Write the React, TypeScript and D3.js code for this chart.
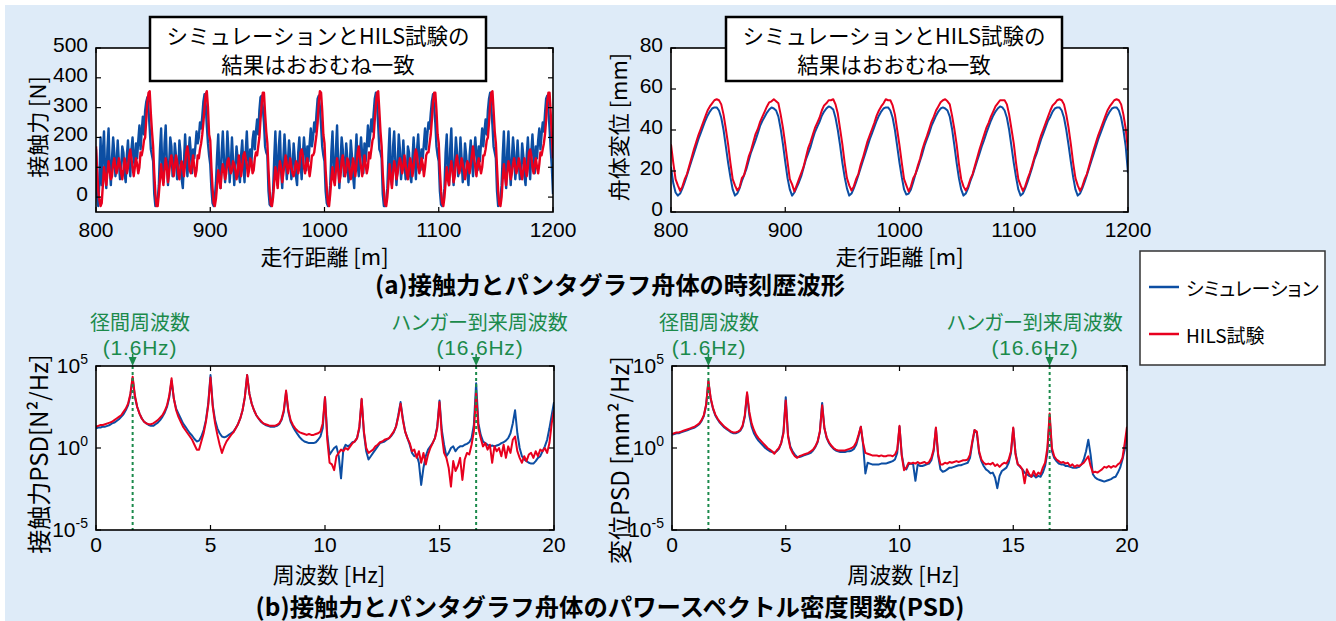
import React from "react";
import * as d3 from "d3";

// ---------- (a) time histories: 800–1200 m ----------
const distStart = 800;
const forceStep = 1; // m
const dispStep = 2; // m
const distTicks = [800, 900, 1000, 1100, 1200];
const forceTicks = [0, 100, 200, 300, 400, 500];
const dispTicks = [0, 20, 40, 60, 80];

// contact force [N], simulation (1 m steps)
const forceSim = [
  160, 10, -30, 60, 200, 40, 150, 220, 80, 30, 160, 230, 100, 40, 130, 200, 150, 70, 110, 190, 120, 60, 100, 170, 150, 80, 50, 140, 190, 110, 70, 160, 200, 130, 100, 180, 130, 190, 240, 160, 220, 270, 210, 290, 320, 335, 290, 230, 160, 140,
  120, 10, -30, -25, -10, 40, 160, 230, 100, 50, 180, 240, 120, 40, 110, 200, 170, 70, 90, 180, 140, 60, 80, 190, 150, 60, 30, 120, 210, 130, 70, 140, 200, 150, 80, 160, 130, 170, 220, 180, 200, 250, 230, 270, 320, 345, 310, 240, 180, 140,
  110, 30, -20, -30, -5, 50, 140, 210, 80, 30, 150, 220, 130, 50, 110, 220, 150, 50, 110, 200, 120, 40, 100, 170, 130, 80, 50, 140, 190, 110, 50, 150, 220, 130, 100, 160, 110, 190, 220, 160, 220, 260, 210, 290, 335, 340, 300, 250, 170, 150,
  140, 20, -25, -30, -20, 20, 130, 220, 100, 40, 170, 220, 90, 30, 130, 210, 140, 60, 120, 190, 140, 60, 90, 180, 130, 70, 40, 150, 200, 120, 60, 140, 200, 150, 90, 170, 120, 180, 230, 170, 200, 250, 220, 280, 330, 340, 300, 240, 170, 140,
  120, 20, -20, -30, -10, 40, 150, 220, 90, 50, 160, 240, 110, 30, 120, 200, 160, 70, 100, 180, 130, 50, 90, 190, 140, 70, 30, 130, 210, 110, 70, 150, 200, 140, 80, 180, 120, 170, 240, 170, 210, 260, 220, 280, 330, 350, 310, 240, 160, 150,
  130, 10, -30, -30, -15, 30, 140, 230, 80, 40, 170, 220, 120, 40, 110, 210, 160, 60, 110, 190, 120, 60, 80, 170, 150, 70, 50, 130, 200, 130, 60, 160, 210, 130, 90, 160, 130, 180, 230, 160, 210, 250, 230, 280, 320, 345, 300, 250, 170, 140,
  120, 20, -25, -30, -10, 30, 150, 210, 90, 40, 160, 230, 100, 40, 120, 200, 150, 70, 100, 200, 130, 50, 100, 180, 140, 80, 40, 140, 190, 120, 70, 150, 200, 140, 90, 170, 120, 180, 230, 170, 220, 260, 210, 290, 330, 350, 300, 240, 170, 150,
  130, 20, -30, -25, -10, 40, 140, 220, 90, 30, 160, 220, 110, 40, 130, 200, 150, 60, 110, 190, 120, 60, 90, 180, 140, 70, 40, 140, 200, 120, 60, 150, 210, 140, 80, 170, 130, 190, 230, 160, 210, 250, 220, 280, 330, 340, 290, 230, 160, 100,
  10,
];

// contact force [N], HILS test (1 m steps)
const forceHils = [
  170, 90, 20, -10, -30, -20, 40, 100, 70, 40, 80, 120, 90, 60, 70, 110, 130, 100, 80, 100, 130, 110, 80, 60, 90, 130, 110, 80, 100, 140, 160, 130, 100, 70, 100, 130, 110, 80, 100, 150, 140, 160, 190, 200, 260, 320, 350, 355, 280, 220,
  170, 80, 10, -30, -30, 10, 60, 110, 70, 40, 90, 130, 100, 50, 80, 120, 140, 110, 70, 100, 140, 120, 80, 60, 100, 120, 100, 70, 110, 150, 170, 140, 90, 80, 110, 140, 100, 70, 90, 140, 130, 160, 180, 210, 250, 300, 345, 355, 300, 210,
  190, 100, 30, -20, -30, -5, 40, 90, 60, 30, 80, 110, 90, 60, 80, 120, 130, 100, 80, 90, 120, 110, 90, 60, 80, 140, 110, 70, 100, 140, 150, 130, 110, 70, 90, 130, 120, 80, 90, 130, 150, 140, 170, 200, 260, 310, 350, 350, 280, 220,
  180, 90, 20, -25, -30, 0, 50, 100, 70, 30, 90, 120, 100, 50, 80, 110, 140, 110, 80, 100, 130, 100, 80, 70, 90, 120, 110, 80, 100, 150, 160, 140, 100, 80, 110, 130, 100, 70, 100, 140, 140, 150, 180, 210, 250, 320, 355, 350, 290, 210,
  180, 90, 30, -20, -30, 10, 60, 100, 60, 40, 90, 130, 90, 50, 70, 120, 140, 100, 70, 90, 130, 120, 90, 60, 90, 130, 100, 70, 110, 150, 170, 130, 100, 70, 100, 140, 110, 80, 100, 150, 130, 160, 190, 200, 260, 310, 350, 355, 290, 220,
  170, 80, 20, -25, -30, 0, 50, 110, 70, 30, 80, 120, 100, 60, 80, 110, 130, 110, 80, 100, 140, 110, 80, 60, 100, 130, 110, 70, 100, 140, 160, 140, 100, 80, 100, 130, 110, 70, 100, 140, 150, 150, 180, 210, 260, 320, 350, 350, 290, 210,
  180, 90, 20, -20, -30, 0, 50, 100, 60, 40, 90, 120, 90, 50, 70, 120, 140, 100, 80, 100, 130, 110, 90, 60, 90, 120, 110, 80, 110, 140, 170, 130, 100, 70, 110, 130, 100, 80, 100, 140, 140, 160, 190, 200, 250, 310, 350, 355, 290, 220,
  180, 100, 20, -25, -30, 0, 60, 110, 70, 40, 80, 120, 100, 60, 80, 110, 130, 100, 80, 100, 130, 110, 80, 60, 90, 130, 100, 70, 100, 150, 160, 140, 100, 80, 110, 130, 100, 80, 110, 150, 140, 160, 180, 210, 260, 320, 350, 350, 280, 200,
  130,
];

// pan-head displacement [mm], simulation (2 m steps)
const dispSim = [
  22, 14, 9.5,
  8, 9, 11.5, 14.5, 18, 21.5, 25, 28.5, 32, 35.5, 38.5, 41.5, 44.5, 47, 49, 50.5, 51, 51, 49.5, 46, 40, 32, 24, 17, 11,
  8, 9, 11.5, 15, 18, 21, 25, 29, 32, 35, 38.5, 42, 44.5, 46.5, 48.5, 50, 51, 50.5, 49.5, 46.5, 40.5, 33, 24.5, 16.5, 11,
  8, 9.5, 12, 14.5, 17.5, 21.5, 25.5, 28.5, 31.5, 35.5, 39, 41.5, 44, 47, 49, 50.5, 51.5, 51, 50, 46, 40, 32.5, 24, 17, 11.5,
  8, 9, 11.5, 14.5, 18, 21.5, 25, 28.5, 32, 35.5, 38.5, 41.5, 44.5, 47, 49, 50.5, 51, 51, 49.5, 46, 40, 32, 24, 17, 11,
  8.5, 9, 11, 14.5, 18.5, 21.5, 25, 28.5, 32.5, 35.5, 38.5, 42, 44.5, 47, 49, 50.5, 51, 50.5, 49.5, 46.5, 40.5, 32.5, 24, 16.5, 11,
  8, 9, 11.5, 15, 18, 21.5, 25, 28.5, 32, 35, 38.5, 41.5, 44.5, 47, 49, 50.5, 51.5, 51, 49.5, 46, 40, 32, 24, 17, 11,
  8, 9, 11.5, 14.5, 18, 21.5, 25.5, 28.5, 32, 35.5, 38.5, 41.5, 44.5, 46.5, 49, 50.5, 51, 51, 49.5, 46, 40, 32.5, 24.5, 17, 11,
  8, 9, 11.5, 14.5, 18, 21.5, 25, 28.5, 32, 35.5, 38.5, 41.5, 44.5, 47, 49, 50.5, 51, 51, 49.5, 46, 40, 32, 19,
];

// pan-head displacement [mm], HILS test (2 m steps)
const dispHils = [
  33, 24, 16,
  13, 10.3, 12.5, 16, 18.5, 22.5, 26.5, 30.5, 34, 37.5, 40.5, 43.5, 46.5, 49.5, 51.5, 53, 54.5, 55, 54.5, 52.5, 47.5, 40.5, 33, 24, 16,
  13, 10.5, 12, 16.5, 18, 22.5, 27, 30, 34, 38, 40.5, 44, 46.5, 49, 51.5, 53.5, 54, 55, 54, 53, 47.5, 41, 33, 24.5, 16,
  13.5, 10, 13, 16, 19, 22, 26.5, 31, 34, 37.5, 41, 43.5, 46, 49.5, 52, 53, 54.5, 54.5, 55, 52.5, 48, 40.5, 33, 24, 16.5,
  13, 10.5, 12.5, 16, 18.5, 23, 26.5, 30.5, 34.5, 37.5, 40.5, 43.5, 47, 49.5, 51.5, 53, 55, 54.5, 54.5, 52, 47.5, 40, 32.5, 24, 16,
  13, 10, 12.5, 16.5, 18.5, 22.5, 26, 30.5, 34, 37, 40.5, 44, 46.5, 49.5, 51.5, 53.5, 54.5, 55, 54, 52.5, 47, 40.5, 33, 23.5, 16,
  12.5, 10.5, 12.5, 16, 18.5, 22.5, 26.5, 30.5, 34, 37.5, 41, 43.5, 46.5, 49, 51.5, 53, 54.5, 54.5, 54.5, 52.5, 47.5, 40.5, 33.5, 24, 16,
  13, 10.3, 12.5, 16, 19, 22.5, 26.5, 30, 34, 37.5, 40.5, 43.5, 46.5, 49.5, 52, 53, 54.5, 55, 54.5, 52.5, 47.5, 41, 33, 24, 16.5,
  13, 10.3, 12.5, 16, 18.5, 22.5, 26.5, 30.5, 34, 37.5, 40.5, 43.5, 46.5, 49.5, 51.5, 53, 54.5, 55, 54.5, 52.5, 47.5, 40.5, 30,
];

// ---------- (b) PSD: 0–20 Hz, 0.1 Hz steps, values are log10(PSD) ----------
const freqStart = 0;
const freqStep = 0.1;
const freqTicks = [0, 5, 10, 15, 20];
const psdTicksExp = [5, 0, -5];
const markFreqs = [1.6, 16.6];

const psdForceSimLog = [
  1.2, 1.25, 1.25, 1.3, 1.3, 1.35, 1.4, 1.5, 1.55, 1.65,
  1.75, 1.9, 2.05, 2.3, 2.6, 3.2, 4.25, 3.1, 2.5, 2.1,
  1.8, 1.6, 1.5, 1.4, 1.35, 1.35, 1.45, 1.55, 1.7, 1.9,
  2.15, 2.5, 3.1, 4.1, 3.0, 2.4, 2.1, 1.8, 1.5, 1.3,
  1.1, 0.9, 0.75, 0.55, 0.4, 0.45, 0.7, 1.1, 1.7, 2.7,
  4.45, 2.6, 1.7, 1.2, 0.9, 0.7, 0.65, 0.7, 0.8, 0.9,
  1.0, 1.2, 1.45, 1.8, 2.3, 3.1, 4.45, 3.3, 2.7, 2.3,
  2.0, 1.8, 1.6, 1.5, 1.4, 1.35, 1.3, 1.3, 1.3, 1.35,
  1.45, 1.7, 2.2, 3.4, 2.2, 1.6, 1.3, 1.05, 0.85, 0.65,
  0.5, 0.4, 0.35, 0.3, 0.3, 0.3, 0.35, 0.5, 0.7, 1.2,
  3.1, 0.8, -0.4, -0.2, 0.0, 0.1, -0.5, -1.85, -0.1, 0.2,
  0.1, 0.2, 0.35, 0.4, 0.6, 1.2, 2.95, 0.9, -0.2, -0.7,
  -0.5, -0.3, -0.1, 0.1, 0.3, 0.35, 0.4, 0.5, 0.6, 0.75,
  0.95, 1.3, 2.0, 2.8, 1.8, 1.0, 0.6, 0.2, -0.3, -0.5,
  -0.4, -0.9, -2.25, -1.2, -0.5, -0.1, 0.1, 0.3, 0.6, 1.3,
  2.9, 1.1, 0.2, -0.5, -0.3, 0.0, 0.1, -0.2, 0.0, 0.1,
  0.1, 0.2, 0.25, 0.35, 0.6, 1.4, 3.95, 1.5, 0.8, 0.4,
  0.3, 0.2, 0.1, 0.15, 0.1, 0.15, 0.2, 0.3, 0.35, 0.45,
  0.6, 0.9, 1.5, 2.3, 0.9, 0.0, -0.5, -0.7, -0.8, -0.9,
  -0.95, -0.95, -0.8, -0.6, -0.5, -0.2, 0.1, 0.5, 1.2, 2.0,
  2.8,
];

const psdForceHilsLog = [
  1.3, 1.35, 1.4, 1.4, 1.45, 1.5, 1.55, 1.6, 1.7, 1.8,
  1.9, 2.0, 2.2, 2.4, 2.7, 3.3, 4.35, 3.2, 2.5, 2.1,
  1.8, 1.6, 1.5, 1.45, 1.45, 1.5, 1.6, 1.7, 1.85, 2.0,
  2.25, 2.6, 3.2, 4.25, 3.0, 2.3, 1.9, 1.6, 1.3, 1.1,
  0.9, 0.7, 0.5, 0.2, -0.1, -0.1, 0.4, 0.9, 1.6, 2.6,
  4.3, 2.5, 1.5, 0.8, 0.2, -0.3, 0.1, 0.4, 0.6, 0.8,
  0.95, 1.2, 1.45, 1.8, 2.3, 3.1, 4.45, 3.3, 2.7, 2.3,
  2.0, 1.8, 1.65, 1.5, 1.45, 1.4, 1.35, 1.35, 1.35, 1.4,
  1.5, 1.75, 2.3, 3.5, 2.3, 1.7, 1.4, 1.2, 1.05, 0.95,
  0.9, 0.85, 0.8, 0.85, 0.8, 0.8, 0.85, 0.9, 1.0, 1.5,
  3.1, 0.5, -0.9, -1.0, -1.35, -0.5, -0.3, -0.1, -0.2, 0.0,
  -0.1, 0.1, 0.3, 0.4, 0.6, 1.3, 3.0, 1.0, 0.0, -0.3,
  -0.2, -0.1, 0.1, 0.2, 0.35, 0.4, 0.5, 0.55, 0.6, 0.8,
  1.0, 1.3, 1.9, 2.7, 1.7, 1.0, 0.6, 0.3, -0.2, -0.1,
  -0.6, -0.2, -0.9, -0.3, -1.0, -0.4, 0.0, 0.3, 0.6, 1.2,
  2.8, 0.8, -0.3, -0.6, -1.2, -2.35, -0.8, -1.4, -1.1, -0.6,
  -1.95, -0.7, -0.3, -0.4, 0.2, 1.0, 3.35, 1.2, 0.6, 0.1,
  0.3, -0.1, 0.2, -0.9, 0.1, -0.2, 0.0, -0.5, 0.2, -0.6,
  0.1, -0.3, 0.5, 0.7, -0.2, -0.6, -0.9, -0.5, -0.8, -0.4,
  -0.3, -0.6, -0.2, -0.5, -0.1, -0.2, 0.0, -0.3, 0.3, 1.5,
  2.3,
];

const psdDispSimLog = [
  0.8, 0.85, 0.9, 0.9, 0.95, 1.0, 1.05, 1.1, 1.15, 1.2,
  1.25, 1.35, 1.45, 1.65, 1.95, 2.6, 4.05, 3.0, 2.4, 2.0,
  1.75, 1.55, 1.4, 1.25, 1.15, 1.05, 0.95, 0.9, 0.9, 0.95,
  1.05, 1.3, 1.9, 3.3, 2.0, 1.3, 0.9, 0.65, 0.45, 0.3,
  0.15, 0.0, -0.1, -0.2, -0.25, -0.3, -0.2, -0.05, 0.3, 1.0,
  3.1, 0.8, 0.1, -0.2, -0.4, -0.55, -0.55, -0.5, -0.45, -0.4,
  -0.35, -0.3, -0.15, 0.05, 0.35, 1.0, 2.75, 1.2, 0.6, 0.3,
  0.1, -0.05, -0.15, -0.2, -0.25, -0.25, -0.25, -0.2, -0.2, -0.15,
  -0.05, 0.2, 0.7, 1.3, 0.2, -1.55, -0.9, -0.95, -1.0, -1.0,
  -1.0, -1.0, -0.95, -0.95, -0.95, -0.9, -0.85, -0.8, -0.7, -0.3,
  1.3, -0.4, -1.2, -1.3, -1.0, -0.95, -1.0, -2.0, -1.0, -1.1,
  -1.1, -1.05, -1.0, -0.95, -0.75, -0.2, 1.2, -0.5, -1.3, -1.45,
  -1.4, -1.3, -1.2, -1.2, -1.15, -1.1, -1.05, -1.05, -1.0, -0.95,
  -0.9, -0.6, 0.3, 1.1, 0.9, -0.3, -0.8, -1.1, -1.3, -1.4,
  -1.55, -1.5, -1.8, -2.45, -1.7, -1.4, -1.3, -1.2, -0.9, -0.3,
  1.2, -0.3, -1.0, -1.15, -1.3, -1.5, -1.6, -1.7, -1.75, -1.65,
  -1.8, -1.7, -1.75, -1.5, -1.1, -0.3, 1.9, -0.2, -0.6, -0.8,
  -0.95, -1.0, -1.0, -1.1, -1.1, -1.15, -1.2, -1.2, -1.2, -1.15,
  -1.0, -0.7, -0.2, 0.5, -0.4, -1.6, -1.8, -1.9, -1.95, -2.0,
  -2.05, -2.0, -1.95, -1.9, -1.8, -1.75, -1.5, -1.2, -0.7, -0.1,
  0.8,
];

const psdDispHilsLog = [
  0.85, 0.9, 0.95, 0.95, 1.0, 1.05, 1.1, 1.15, 1.2, 1.25,
  1.3, 1.4, 1.5, 1.7, 2.0, 2.65, 4.1, 3.05, 2.45, 2.05,
  1.8, 1.6, 1.45, 1.3, 1.2, 1.1, 1.0, 0.95, 0.95, 1.0,
  1.1, 1.35, 2.0, 3.4, 2.2, 1.5, 1.1, 0.8, 0.6, 0.45,
  0.3, 0.15, 0.0, -0.1, -0.2, -0.35, -0.15, 0.0, 0.3, 0.9,
  2.9, 0.7, 0.0, -0.3, -0.5, -0.6, -0.5, -0.45, -0.4, -0.35,
  -0.3, -0.2, -0.1, 0.1, 0.4, 1.0, 2.6, 1.2, 0.65, 0.35,
  0.15, 0.0, -0.1, -0.15, -0.15, -0.15, -0.15, -0.1, -0.05, 0.0,
  0.1, 0.35, 0.8, 1.3, 0.3, -0.3, -0.35, -0.4, -0.45, -0.45,
  -0.45, -0.5, -0.45, -0.5, -0.5, -0.45, -0.45, -0.5, -0.4, -0.1,
  1.35, -0.5, -1.35, -1.2, -0.9, -0.95, -0.9, -0.95, -0.85, -0.95,
  -0.9, -0.85, -0.95, -0.85, -0.6, -0.1, 1.25, -0.4, -1.0, -1.0,
  -0.9, -0.95, -0.85, -0.9, -0.85, -0.8, -0.85, -0.8, -0.75, -0.75,
  -0.7, -0.4, 0.4, 1.1, 1.0, -0.2, -0.7, -0.9, -1.0, -0.95,
  -1.0, -0.9, -1.1, -1.0, -1.15, -1.0, -0.9, -0.95, -0.7, -0.2,
  1.25, -0.4, -1.0, -1.1, -1.3, -2.15, -1.3, -1.6, -1.75, -1.4,
  -1.7, -1.5, -1.6, -1.2, -0.9, 0.0, 2.1, 0.0, -0.5, -0.7,
  -0.8, -0.9, -0.85, -0.95, -0.9, -1.1, -1.0, -1.15, -1.05, -1.1,
  -1.0, -0.9, -0.7, -0.5, -1.1, -1.5, -1.45, -1.5, -1.4, -1.3,
  -1.15, -1.2, -1.1, -1.2, -1.1, -1.15, -1.0, -0.9, -0.6, 0.3,
  1.3,
];

// ---------- text ----------
const boxLines = ["シミュレーションとHILS試験の", "結果はおおむね一致"];
const legendLabels = ["シミュレーション", "HILS試験"];
const titleA = "(a)接触力とパンタグラフ舟体の時刻歴波形";
const titleB = "(b)接触力とパンタグラフ舟体のパワースペクトル密度関数(PSD)";
const markLabels = [["径間周波数", "(1.6Hz)"], ["ハンガー到来周波数", "(16.6Hz)"]];

// ---------- styles ----------
const JP = "'Noto Sans CJK JP', 'Noto Sans', sans-serif";
const NUM = "'Liberation Sans Narrow', 'Liberation Sans', Arial, sans-serif";
const LAT = "'Liberation Sans', Arial, sans-serif";
const BLUE = "#0c4ea3";
const RED = "#e8001e";
const GREEN = "#1b8a4b";
const BG = "#deebf8";
const palt = { fontFeatureSettings: '"palt"' } as React.CSSProperties;

type Box = { x0: number; x1: number; y0: number; y1: number };

function FrameTicks({ b, xs, ys }: { b: Box; xs: number[]; ys: number[] }) {
  const L = 5;
  return (
    <g stroke="#000" strokeWidth={1.2}>
      {xs.map((x, i) => (
        <g key={"x" + i}>
          <line x1={x} x2={x} y1={b.y1} y2={b.y1 - L} />
          <line x1={x} x2={x} y1={b.y0} y2={b.y0 + L} />
        </g>
      ))}
      {ys.map((y, i) => (
        <g key={"y" + i}>
          <line x1={b.x0} x2={b.x0 + L} y1={y} y2={y} />
          <line x1={b.x1} x2={b.x1 - L} y1={y} y2={y} />
        </g>
      ))}
      <rect x={b.x0} y={b.y0} width={b.x1 - b.x0} height={b.y1 - b.y0} fill="none" strokeWidth={1.6} />
    </g>
  );
}

function TimePanel({ b, id, yDomain, yTicks, sim, hils, step, yLabel, yLabelX, xLabel, width }: any) {
  const x = d3.scaleLinear().domain([800, 1200]).range([b.x0, b.x1]);
  const y = d3.scaleLinear().domain(yDomain).range([b.y1, b.y0]);
  const line = d3
    .line<number>()
    .x((_, i) => x(distStart + i * step))
    .y((v) => y(v));
  const cy = (b.y0 + b.y1) / 2;
  return (
    <g>
      <rect x={b.x0} y={b.y0} width={b.x1 - b.x0} height={b.y1 - b.y0} fill="#fff" />
      <clipPath id={id}>
        <rect x={b.x0} y={b.y0} width={b.x1 - b.x0} height={b.y1 - b.y0} />
      </clipPath>
      <g clipPath={`url(#${id})`} fill="none" strokeLinejoin="round">
        <path d={line(sim) || ""} stroke={BLUE} strokeWidth={width} />
        <path d={line(hils) || ""} stroke={RED} strokeWidth={width} />
      </g>
      <FrameTicks b={b} xs={distTicks.map(x)} ys={yTicks.map(y)} />
      {distTicks.map((t) => (
        <text key={t} x={x(t)} y={b.y1 + 25} textAnchor="middle" fontFamily={NUM} fontSize={21}>
          {t}
        </text>
      ))}
      {yTicks.map((t: number) => (
        <text key={t} x={b.x0 - 8} y={y(t) + 4} textAnchor="end" fontFamily={NUM} fontSize={21}>
          {t}
        </text>
      ))}
      <text
        transform={`translate(${yLabelX},${cy - 3}) rotate(-90)`}
        textAnchor="middle"
        dominantBaseline="central"
        fontFamily={JP}
        fontSize={22}
        style={palt}
      >
        {yLabel}
      </text>
      <text x={(b.x0 + b.x1) / 2} y={255} textAnchor="middle" dominantBaseline="central" fontFamily={JP} fontSize={22} style={palt}>
        {xLabel}
      </text>
    </g>
  );
}

function PsdPanel({ b, id, sim, hils, yLabel, yLabelX, yLabelY, labelPos }: any) {
  const x = d3.scaleLinear().domain([0, 20]).range([b.x0, b.x1]);
  const y = d3.scaleLog().domain([1e-5, 1e5]).range([b.y1, b.y0]);
  const line = d3
    .line<number>()
    .x((_, i) => x(freqStart + i * freqStep))
    .y((v) => y(Math.pow(10, v)));
  return (
    <g>
      <rect x={b.x0} y={b.y0} width={b.x1 - b.x0} height={b.y1 - b.y0} fill="#fff" />
      <clipPath id={id}>
        <rect x={b.x0} y={b.y0} width={b.x1 - b.x0} height={b.y1 - b.y0} />
      </clipPath>
      <g clipPath={`url(#${id})`} fill="none" strokeLinejoin="round">
        <path d={line(sim) || ""} stroke={BLUE} strokeWidth={2} />
        <path d={line(hils) || ""} stroke={RED} strokeWidth={2} />
      </g>
      {markFreqs.map((f) => (
        <g key={f}>
          <line x1={x(f)} x2={x(f)} y1={b.y0} y2={b.y1} stroke={GREEN} strokeWidth={2} strokeDasharray="3,3" />
          <path d={`M${x(f) - 4},${b.y0 - 9}L${x(f) + 4},${b.y0 - 9}L${x(f)},${b.y0}Z`} fill={GREEN} />
          <line x1={x(f)} x2={x(f)} y1={b.y0 - 12} y2={b.y0 - 6} stroke={GREEN} strokeWidth={1.5} />
        </g>
      ))}
      {markLabels.map((lab, i) => (
        <g key={i} fill={GREEN} textAnchor="middle" dominantBaseline="central">
          <text x={labelPos[i]} y={321} fontFamily={JP} fontSize={20} style={palt}>
            {lab[0]}
          </text>
          <text x={labelPos[i]} y={347} fontFamily={LAT} fontSize={21} letterSpacing={0.8}>
            {lab[1]}
          </text>
        </g>
      ))}
      <FrameTicks b={b} xs={freqTicks.map(x)} ys={psdTicksExp.map((e) => y(Math.pow(10, e)))} />
      {freqTicks.map((t) => (
        <text key={t} x={x(t)} y={b.y1 + 22} textAnchor="middle" fontFamily={NUM} fontSize={21}>
          {t}
        </text>
      ))}
      {psdTicksExp.map((e) => (
        <text key={e} x={b.x0 - 8} y={y(Math.pow(10, e)) + 7} textAnchor="end" fontFamily={NUM} fontSize={21}>
          10
          <tspan dy={-9} fontSize={14}>
            {e === 0 ? "0" : e > 0 ? String(e) : "-" + String(-e)}
          </tspan>
        </text>
      ))}
      <text
        transform={`translate(${yLabelX},${yLabelY}) rotate(-90)`}
        textAnchor="middle"
        dominantBaseline="central"
        fontFamily={JP}
        fontSize={24}
        style={palt}
      >
        {yLabel}
      </text>
      <text x={(b.x0 + b.x1) / 2 + 4} y={573} textAnchor="middle" dominantBaseline="central" fontFamily={JP} fontSize={22} style={palt}>
        周波数 [Hz]
      </text>
    </g>
  );
}

function NoteBox({ x0, x1 }: { x0: number; x1: number }) {
  const cx = (x0 + x1) / 2;
  return (
    <g>
      <rect x={x0} y={17} width={x1 - x0} height={64} fill="#fff" stroke="#000" strokeWidth={2.5} />
      <text textAnchor="middle" dominantBaseline="central" fontFamily={JP} fontSize={21.5}>
        {boxLines.map((t, i) => (
          <tspan key={i} x={cx} y={34 + i * 29}>
            {t}
          </tspan>
        ))}
      </text>
    </g>
  );
}

export default function App() {
  const p1: Box = { x0: 96, x1: 553, y0: 48, y1: 212 };
  const p2: Box = { x0: 671, x1: 1128, y0: 48, y1: 212 };
  const p3: Box = { x0: 96, x1: 554, y0: 366, y1: 530 };
  const p4: Box = { x0: 672, x1: 1127, y0: 366, y1: 530 };
  return (
    <svg width={1336} height={621} style={{ position: "absolute", left: 0, top: 0 }}>
      <rect x={0} y={0} width={1336} height={621} fill="#fff" />
      <rect x={5} y={5} width={1331} height={616} fill={BG} />
      <TimePanel
        b={p1}
        id="c1"
        yDomain={[-50, 500]}
        yTicks={forceTicks}
        sim={forceSim}
        hils={forceHils}
        step={forceStep}
        yLabel="接触力 [N]"
        yLabelX={36}
        xLabel="走行距離 [m]"
        width={2.4}
      />
      <TimePanel
        b={p2}
        id="c2"
        yDomain={[0, 80]}
        yTicks={dispTicks}
        sim={dispSim}
        hils={dispHils}
        step={dispStep}
        yLabel="舟体変位 [mm]"
        yLabelX={617}
        xLabel="走行距離 [m]"
        width={2}
      />
      <NoteBox x0={150} x1={486} />
      <NoteBox x0={726} x1={1062} />
      <text
        x={610}
        y={283}
        textAnchor="middle"
        dominantBaseline="central"
        fontFamily={JP}
        fontSize={24}
        fontWeight="bold"
        textLength={470}
        lengthAdjust="spacingAndGlyphs"
      >
        {titleA}
      </text>
      <PsdPanel b={p3} id="c3" sim={psdForceSimLog} hils={psdForceHilsLog} yLabel="接触力PSD[N²/Hz]" yLabelX={37} yLabelY={454} labelPos={[140, 480]} />
      <PsdPanel b={p4} id="c4" sim={psdDispSimLog} hils={psdDispHilsLog} yLabel="変位PSD [mm²/Hz]" yLabelX={618} yLabelY={460} labelPos={[709, 1035]} />
      <text
        x={610}
        y={605}
        textAnchor="middle"
        dominantBaseline="central"
        fontFamily={JP}
        fontSize={24}
        fontWeight="bold"
        textLength={709}
        lengthAdjust="spacingAndGlyphs"
      >
        {titleB}
      </text>
      <g>
        <rect x={1140} y={251} width={185} height={114} fill="#fff" stroke="#333" strokeWidth={1.5} />
        {legendLabels.map((t, i) => (
          <g key={t}>
            <line x1={1149} x2={1179} y1={287 + i * 47} y2={287 + i * 47} stroke={i === 0 ? BLUE : RED} strokeWidth={2.5} />
            <text x={1186} y={287 + i * 47} dominantBaseline="central" fontFamily={JP} fontSize={19} style={palt}>
              {t}
            </text>
          </g>
        ))}
      </g>
    </svg>
  );
}
